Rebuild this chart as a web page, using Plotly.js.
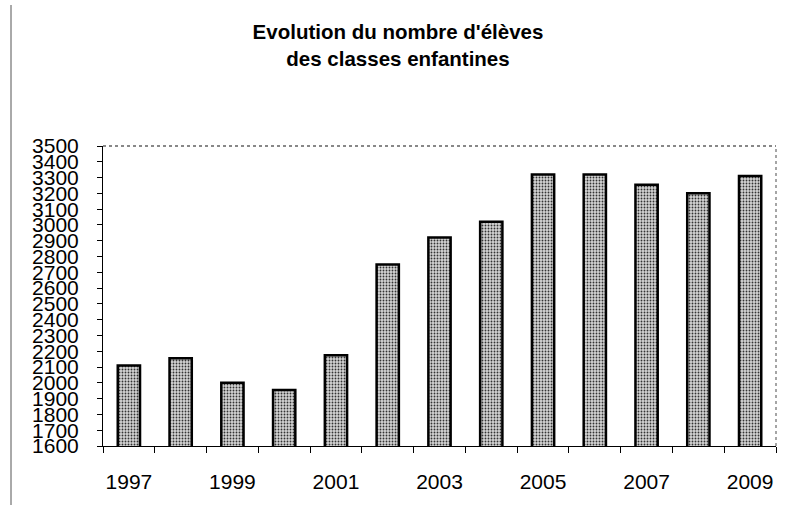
<!DOCTYPE html>
<html>
<head>
<meta charset="utf-8">
<script src="https://cdn.plot.ly/plotly-3.0.1.min.js"></script>
<style>html,body{margin:0;padding:0;background:#fff;}#chart{width:805px;height:515px;}</style>
</head>
<body>
<div id="chart"></div>
<script>
var years = [1997, 1998, 1999, 2000, 2001, 2002, 2003, 2004, 2005, 2006, 2007, 2008, 2009];
var eleves = [2110, 2155, 2000, 1955, 2175, 2750, 2920, 3020, 3320, 3320, 3255, 3200, 3310];
var xTickLabels = ['1997', '1999', '2001', '2003', '2005', '2007', '2009'];
var xTickVals = [1997, 1999, 2001, 2003, 2005, 2007, 2009];

var trace = {
  type: 'bar',
  x: years,
  y: eleves,
  width: 0.43,
  marker: {
    color: '#b4b4b4',
    line: {color: '#000', width: 2.5},
    pattern: {shape: '.', fgcolor: '#333', bgcolor: '#d4d4d4', size: 3, solidity: 0.3}
  },
  hoverinfo: 'x+y'
};

var layout = {
  width: 805, height: 515,
  margin: {l: 103, r: 29, t: 146, b: 69},
  paper_bgcolor: '#fff', plot_bgcolor: '#fff',
  showlegend: false,
  font: {family: 'Liberation Sans, Arial, sans-serif', color: '#000'},
  title: {
    text: "<b>Evolution du nombre d'élèves<br>des classes enfantines</b>",
    font: {size: 20.5, family: 'Liberation Sans, Arial, sans-serif', color: '#000'},
    x: 398 / 805, xanchor: 'center', xref: 'container',
    yref: 'container', y: 1 - 39 / 515, yanchor: 'middle'
  },
  xaxis: {
    type: 'linear',
    range: [1996.5, 2009.5],
    tickvals: xTickVals, ticktext: xTickLabels,
    ticks: '', ticklen: 0,
    minor: {tick0: 1996.5, dtick: 1, ticks: 'outside', ticklen: 6, tickcolor: '#000', tickwidth: 1},
    ticklabelstandoff: 17,
    tickfont: {size: 21, family: 'Liberation Sans, Arial, sans-serif', color: '#000'},
    showgrid: false, zeroline: false,
    showline: true, linecolor: '#000', linewidth: 1
  },
  yaxis: {
    range: [1600, 3500],
    dtick: 100, tick0: 1600,
    ticks: 'outside', ticklen: 5, tickcolor: '#000',
    ticklabelstandoff: 14,
    tickfont: {size: 21, family: 'Liberation Sans, Arial, sans-serif', color: '#000'},
    showgrid: false, zeroline: false,
    showline: true, linecolor: '#000', linewidth: 1
  },
  shapes: [
    {type: 'line', xref: 'paper', yref: 'paper', x0: 0, x1: 1, y0: 1, y1: 1,
     line: {color: '#888', width: 2, dash: 'dot'}},
    {type: 'line', xref: 'paper', yref: 'paper', x0: 1, x1: 1, y0: 0, y1: 1,
     line: {color: '#888', width: 1.5, dash: 'dot'}},
    {type: 'line', xref: 'paper', yref: 'paper', x0: -92/673, x1: -92/673,
     y0: -59/300, y1: 441/300, line: {color: '#555', width: 1}}
  ]
};

Plotly.newPlot('chart', [trace], layout, {displayModeBar: false, staticPlot: true});
</script>
</body>
</html>
